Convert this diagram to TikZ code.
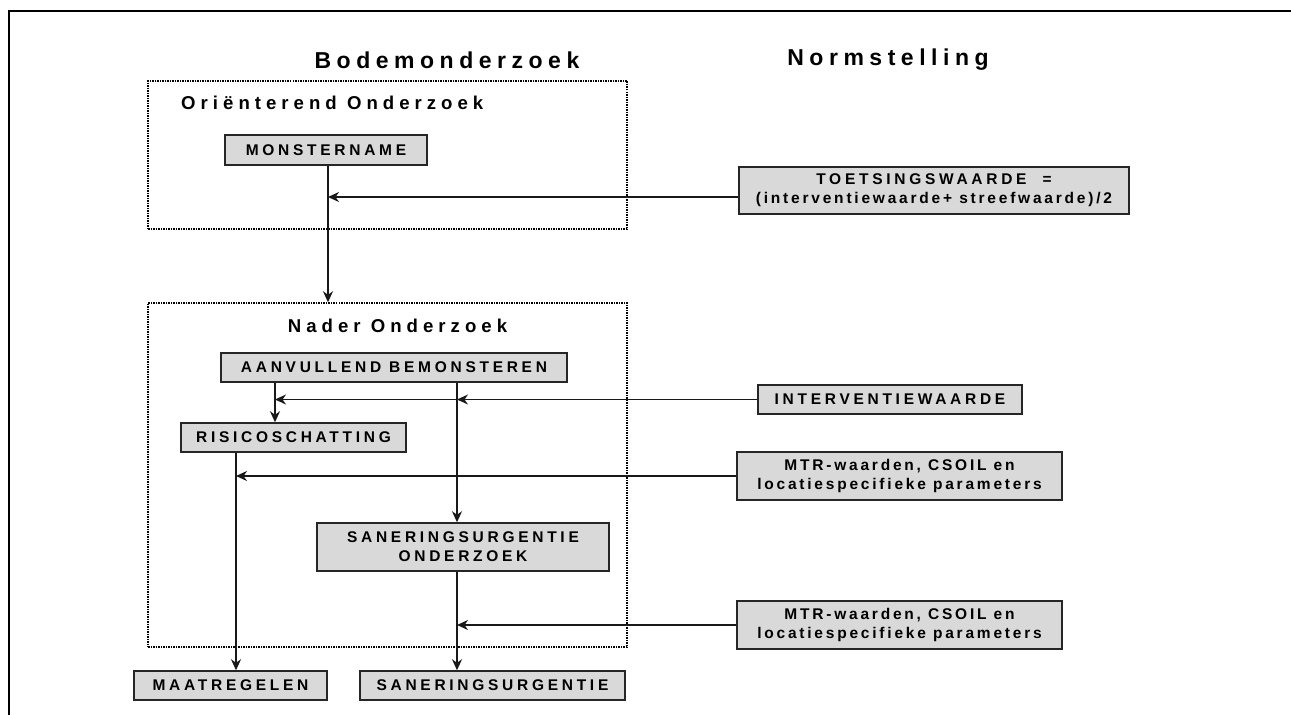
\documentclass[tikz,border=0pt]{standalone}
\usepackage{fontspec}
\setmainfont{Liberation Sans}[Ligatures=NoCommon]
\usetikzlibrary{arrows.meta}

\begin{document}
\begin{tikzpicture}[
  x=1pt, y=-1pt,
  >={Stealth[length=11pt, width=10pt, inset=3.5pt]},
  box/.style={draw=black!85, line width=1.5pt, fill=black!15, inner sep=1pt, align=center,
              font=\bfseries\fontsize{15.5}{19}\selectfont\addfontfeature{LetterSpace=24}},
  lbox/.style={box, font=\bfseries\fontsize{15.5}{19}\selectfont\addfontfeature{LetterSpace=18}},
  area/.style={draw, densely dotted, line width=1.5pt, inner sep=0pt},
  head/.style={inner sep=0pt, font=\bfseries\fontsize{23}{27}\selectfont\addfontfeature{LetterSpace=24}},
  sub/.style={inner sep=0pt, font=\bfseries\fontsize{18.6}{22}\selectfont\addfontfeature{LetterSpace=27}},
  arr/.style={->, line width=1.4pt, draw=black!90},
]
  \useasboundingbox (0,0) rectangle (1291,715);
  \draw[line width=2pt] (9,715) -- (9,11) -- (1291,11);

  \node[head] (bodem) at (447,60) {Bodemonderzoek};
  \node[head] (norm)  at (888,60) {Normstelling};

  % onderzoeksfasen
  \node[area, minimum width=479, minimum height=148] (orient) at (387.5,155) {};
  \node[area, minimum width=479, minimum height=344] (nader)  at (387.5,475) {};
  \node[sub, anchor=west] (orientlbl) at (181,103) {Oriënterend Onderzoek};
  \node[sub] (naderlbl) at (397.5,326) {Nader Onderzoek};

  \node[box, minimum width=202, minimum height=30] (mon)    at (326,150)   {MONSTERNAME};
  \node[box, minimum width=346, minimum height=29] (aanv)   at (394,367.5) {AANVULLEND BEMONSTEREN};
  \node[box, minimum width=225, minimum height=29] (risico) at (293.5,437.5) {RISICOSCHATTING};
  \node[box, minimum width=292, minimum height=48] (sanond) at (463,547)   {SANERINGSURGENTIE\\ONDERZOEK};
  \node[box, minimum width=193, minimum height=29] (maat)   at (230.5,685.5) {MAATREGELEN};
  \node[box, minimum width=265, minimum height=29] (san)    at (492.5,685.5) {SANERINGSURGENTIE};

  % normen
  \node[box, minimum width=390, minimum height=47] (toets)  at (934,190.5)
    {TOETSINGSWAARDE \ =\\\addfontfeature{LetterSpace=18}(interventiewaarde+ streefwaarde)/2};
  \node[box, minimum width=264, minimum height=29] (interv) at (890,399.5) {INTERVENTIEWAARDE};
  \node[lbox, minimum width=325, minimum height=48] (mtra)  at (899.5,476) {MTR-waarden, CSOIL en\\locatiespecifieke parameters};
  \node[lbox, minimum width=325, minimum height=48] (mtrb)  at (899.5,625) {MTR-waarden, CSOIL en\\locatiespecifieke parameters};

  \coordinate (rm) at (328,0);
  \coordinate (ra) at (275,0);
  \coordinate (rb) at (457,0);
  \coordinate (rc) at (236,0);
  \coordinate (tin) at ([yshift=-6.5pt]toets.west);

  \draw[arr] (mon.south -| rm) -- (nader.north -| rm);
  \draw[arr] (tin) -- (tin -| rm);
  \draw[arr] (aanv.south -| ra) -- (risico.north -| ra);
  \draw[arr] (interv.west) -- (interv.west -| ra);
  \draw[arr] (interv.west) -- (interv.west -| rb);
  \draw[arr] (aanv.south -| rb) -- (sanond.north -| rb);
  \draw[arr] (risico.south -| rc) -- (maat.north -| rc);
  \draw[arr] (mtra.west) -- (mtra.west -| rc);
  \draw[arr] (sanond.south -| rb) -- (san.north -| rb);
  \draw[arr] (mtrb.west) -- (mtrb.west -| rb);
\end{tikzpicture}
\end{document}
